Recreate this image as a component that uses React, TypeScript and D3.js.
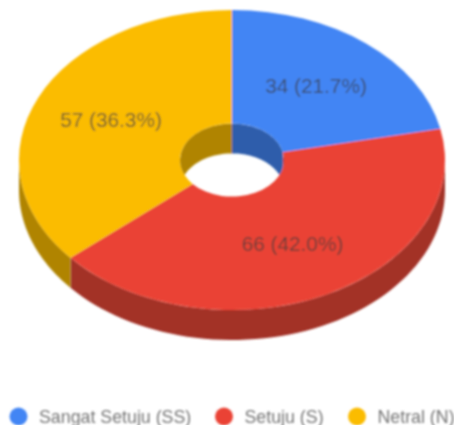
import React from "react";
import * as d3 from "d3";

const categories = ["Sangat Setuju (SS)", "Setuju (S)", "Netral (N)"];
const values = [34, 66, 57];
const labels = ["34 (21.7%)", "66 (42.0%)", "57 (36.3%)"];
const colors = ["#4285f4", "#ea4335", "#fbbc04"];
const wallColors = ["#2e5dab", "#a33027", "#b08403"];
const legendX = [18.5, 224, 357];
const labelPos: [number, number][] = [[316, 93], [292.5, 250.5], [111, 127]];

const cx = 232;
const cy = 160;
const rx = 213;
const ry = 150;
const holeR = 52;
const depth = 30;
const yScale = ry / rx;

const pie = d3.pie<number>().sort(null).startAngle(0).endAngle(2 * Math.PI);
const arcs = pie(values);
const arcGen = d3.arc<d3.PieArcDatum<number>>().innerRadius(holeR).outerRadius(rx);

// Point on an ellipse of radius r, angle measured clockwise from 12 o'clock
const pt = (a: number, r: number, dy = 0): [number, number] => [
  cx + r * Math.sin(a),
  cy - r * yScale * Math.cos(a) + dy,
];

function band(a0: number, a1: number, r: number): string | null {
  if (a1 <= a0) return null;
  const steps = 60;
  const angles = d3.range(steps + 1).map((i) => a0 + ((a1 - a0) * i) / steps);
  const pts = [
    ...angles.map((a) => pt(a, r)),
    ...angles.slice().reverse().map((a) => pt(a, r, depth)),
  ];
  return d3.line()(pts) + "Z";
}

const PI = Math.PI;

export default function App() {
  return (
    <svg
      width={454}
      height={425}
      viewBox="0 0 454 425"
      style={{ position: "absolute", left: 0, top: 0, background: "#fff" }}
      fontFamily="'Liberation Sans', Arial, sans-serif"
    >
      <defs>
        <filter id="soft" x="-5%" y="-5%" width="110%" height="110%">
          <feGaussianBlur stdDeviation="0.8" />
        </filter>
        <clipPath id="hole">
          <ellipse cx={cx} cy={cy} rx={holeR} ry={holeR * yScale} />
        </clipPath>
      </defs>
      <g filter="url(#soft)">
        {/* outer wall: front half only */}
        {arcs.map((d, i) => (
          <path
            key={"o" + i}
            d={band(Math.max(d.startAngle, PI / 2), Math.min(d.endAngle, (3 * PI) / 2), rx) ?? ""}
            fill={wallColors[i]}
          />
        ))}
        {/* top face */}
        <g transform={`translate(${cx},${cy}) scale(1,${yScale})`}>
          {arcs.map((d, i) => (
            <path key={"t" + i} d={arcGen(d) ?? ""} fill={colors[i]} />
          ))}
        </g>
        {/* inner wall: back half of the hole */}
        <g clipPath="url(#hole)">
          {arcs.map((d, i) => {
            const right = band(Math.max(d.startAngle, 0), Math.min(d.endAngle, PI / 2), holeR);
            const left = band(Math.max(d.startAngle, (3 * PI) / 2), Math.min(d.endAngle, 2 * PI), holeR);
            return (
              <g key={"h" + i} fill={wallColors[i]}>
                {right && <path d={right} />}
                {left && <path d={left} />}
              </g>
            );
          })}
        </g>
        {labels.map((t, i) => (
          <text
            key={t}
            x={labelPos[i][0]}
            y={labelPos[i][1]}
            textAnchor="middle"
            fontSize={20.8}
            fill="#3a3a3a"
            fillOpacity={0.72}
          >
            {t}
          </text>
        ))}
        {categories.map((c, i) => (
          <g key={c}>
            <circle cx={legendX[i]} cy={416.5} r={9} fill={colors[i]} />
            <text x={legendX[i] + 20.5} y={422.5} fontSize={17.8} fill="#757575">
              {c}
            </text>
          </g>
        ))}
      </g>
    </svg>
  );
}
